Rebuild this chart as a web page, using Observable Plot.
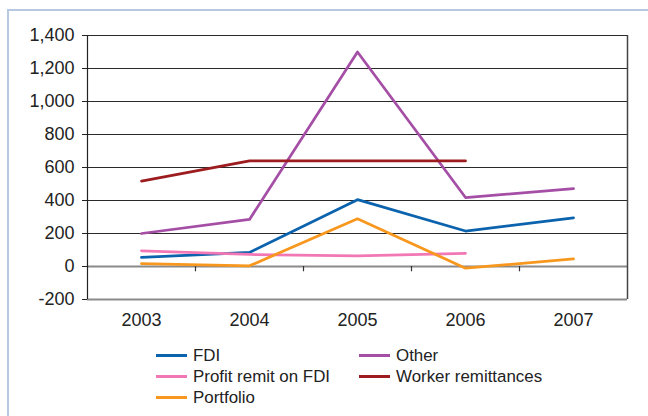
<!DOCTYPE html>
<html><head><meta charset="utf-8">
<script src="https://cdn.jsdelivr.net/npm/d3@7"></script>
<script src="https://cdn.jsdelivr.net/npm/@observablehq/plot@0.6"></script>
<style>
body{margin:0;background:#fff;}
#wrap{position:relative;width:648px;height:416px;overflow:hidden;font-family:"Liberation Sans",Arial,sans-serif;}
#border{position:absolute;left:7px;top:9px;width:700px;height:500px;border:2px solid #b7c8e1;}
#chart{position:absolute;left:0;top:0;width:648px;height:340px;}
#chart svg{display:block;max-width:none;}
#legend{position:absolute;left:156px;top:345px;display:grid;grid-template-columns:203px auto;font-size:16.9px;color:#222;}
.item{display:flex;align-items:center;height:21px;white-space:nowrap;}
.sw{width:31px;height:3px;margin-right:6px;}
</style></head><body>
<div id="wrap"><div id="border"></div><div id="chart"></div><div id="legend"></div></div>
<script>
const years = [2003, 2004, 2005, 2006, 2007];
const fdi = [55, 85, 405, 215, 295];
const other = [200, 285, 1300, 418, 472];
const profitRemit = [95, 73, 65, 80, null];
const workerRemit = [518, 640, 640, 640, null];
const portfolio = [17, 4, 289, -10, 46];
const seriesNames = ["FDI", "Other", "Profit remit on FDI", "Worker remittances", "Portfolio"];
const seriesColors = ["#0b62ad", "#a54ea6", "#f178b5", "#9c1c20", "#f7971e"];
const yTicks = [-200, 0, 200, 400, 600, 800, 1000, 1200, 1400];

const seriesValues = [fdi, other, profitRemit, workerRemit, portfolio];
const data = [];
seriesNames.forEach((name, i) => {
  years.forEach((yr, j) => {
    const v = seriesValues[i][j];
    if (v !== null && v !== undefined) data.push({series: name, year: yr, value: v});
  });
});
const bounds = years.slice(1).map(y => y - 0.5);
const xMin = years[0] - 0.5, xMax = years[years.length - 1] + 0.5;

const chart = Plot.plot({
  width: 648,
  height: 340,
  marginLeft: 87,
  marginRight: 21,
  marginTop: 35,
  marginBottom: 41,
  style: {fontFamily: '"Liberation Sans", Arial, sans-serif', fontSize: "18px", color: "#222", background: "transparent"},
  x: {type: "linear", domain: [xMin, xMax]},
  y: {domain: [yTicks[0], yTicks[yTicks.length - 1]]},
  color: {domain: seriesNames, range: seriesColors},
  marks: [
    Plot.gridY(yTicks.filter(d => d !== 0 && d !== yTicks[0]), {stroke: "#2a2a2a", strokeOpacity: 1, strokeWidth: 1}),
    Plot.ruleY([0], {stroke: "#8a8a8a", strokeWidth: 2}),
    Plot.ruleY([yTicks[0]], {stroke: "#8a8a8a", strokeWidth: 2}),
    Plot.ruleX([xMax], {stroke: "#444", strokeWidth: 1.5}),
    Plot.ruleX([xMin], {stroke: "#222", strokeWidth: 1.2}),
    Plot.ruleX(bounds, {y1: 0, y2: -32, stroke: "#333", strokeWidth: 1.2}),
    Plot.axisY({ticks: yTicks, tickSize: 5, tickPadding: 8, tickFormat: d => d.toLocaleString("en-US"), label: null, stroke: "#222"}),
    Plot.axisX({ticks: years, tickSize: 0, tickPadding: 14, tickFormat: d => String(d), label: null}),
    Plot.line(data, {x: "year", y: "value", z: "series", stroke: "series", strokeWidth: 2.75})
  ]
});
document.getElementById("chart").appendChild(chart);

const legendOrder = [0, 1, 2, 3, 4];
const legend = document.getElementById("legend");
legendOrder.forEach(i => {
  const item = document.createElement("div");
  item.className = "item";
  const sw = document.createElement("span");
  sw.className = "sw";
  sw.style.background = seriesColors[i];
  const t = document.createElement("span");
  t.textContent = seriesNames[i];
  item.appendChild(sw);
  item.appendChild(t);
  legend.appendChild(item);
});
</script>
</body></html>
